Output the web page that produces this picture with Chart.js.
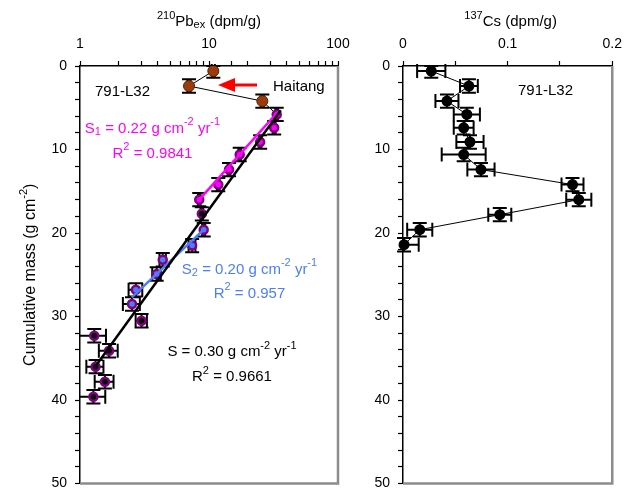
<!DOCTYPE html>
<html>
<head>
<meta charset="utf-8">
<script src="https://cdn.jsdelivr.net/npm/chart.js@4.4.0/dist/chart.umd.min.js"></script>
<style>
body { margin: 0; background: #fff; width: 630px; height: 488px; overflow: hidden; position: relative; }
#pbBox { position: absolute; left: 0; top: 0; width: 360px; height: 500px; }
#csBox { position: absolute; left: 360px; top: 0; width: 270px; height: 500px; }
</style>
</head>
<body>
<div id="pbBox"><canvas id="pbChart"></canvas></div>
<div id="csBox"><canvas id="csChart"></canvas></div>
<script>
// Haitang layer (top three samples)
var haitangMass = [0.6, 2.4, 4.2];
var haitangPb = [10.8, 7.0, 25.9];
var haitangPbErr = [0.3, 0.2, 0.7];

// 210Pb excess below the Haitang layer
var pbMass = [5.8, 7.4, 9.1, 10.6, 12.4, 14.2, 16.0, 17.7, 19.6, 21.5, 23.2, 24.9, 26.8, 28.5, 30.5, 32.3, 34.1, 36.0, 37.8, 39.6];
var pbExcess = [33.5, 32.0, 24.9, 17.3, 14.3, 11.8, 8.4, 8.8, 9.1, 7.4, 4.38, 3.93, 2.71, 2.53, 3.0, 1.29, 1.68, 1.32, 1.56, 1.27];
var pbExcessErr = [0.8, 0.8, 0.6, 0.4, 0.35, 0.3, 0.2, 0.2, 0.25, 0.45, 0.25, 0.3, 0.33, 0.38, 0.3, 0.3, 0.28, 0.2, 0.26, 0.3];
var pbSegment = ['S1','S1','S1','S1','S1','S1','S1','','S2','S2','S2','S2','S2','S2','','','','','',''];
var massErr = 0.8;

// regression lines (end points)
var fitAllMass = [5.3, 36.0];
var fitAllPb = [36.0, 1.31];
var fitS1Mass = [5.45, 16.0];
var fitS1Pb = [34.4, 8.4];
var fitS2Mass = [19.6, 27.7];
var fitS2Pb = [9.1, 2.52];

// 137Cs
var csMass = [0.6, 2.4, 4.2, 5.8, 7.4, 9.1, 10.6, 12.4, 14.2, 16.0, 17.8, 19.6, 21.4];
var cs137 = [0.027, 0.063, 0.042, 0.061, 0.058, 0.064, 0.058, 0.0745, 0.162, 0.168, 0.0925, 0.016, 0.001];
var cs137Err = [0.0135, 0.0085, 0.011, 0.0125, 0.0095, 0.013, 0.021, 0.013, 0.0105, 0.012, 0.011, 0.012, 0.014];

var pbTickLabels = [1, 10, 100];
var csTickLabels = [0, 0.1, 0.2];
var massTickLabels = [0, 10, 20, 30, 40, 50];

var FONT = '"Liberation Sans", Arial, sans-serif';
Chart.defaults.font.family = FONT;
Chart.defaults.color = '#000';

function pts(xs, ys) {
  return xs.map(function(v, i){ return {x: v, y: ys[i]}; });
}

function richText(ctx, parts, x, y, align, size, color) {
  var small = Math.round(size * 0.7);
  var widths = [], total = 0;
  parts.forEach(function(p){
    ctx.font = (p[1] ? small : size) + 'px ' + FONT;
    var w = ctx.measureText(p[0]).width;
    widths.push(w); total += w;
  });
  var cx = align == 'center' ? x - total / 2 : x;
  ctx.fillStyle = color;
  ctx.textAlign = 'left';
  ctx.textBaseline = 'alphabetic';
  parts.forEach(function(p, i){
    ctx.font = (p[1] ? small : size) + 'px ' + FONT;
    var dy = p[1] == 'sup' ? -size * 0.5 : (p[1] == 'sub' ? size * 0.15 : 0);
    ctx.fillText(p[0], cx, y + dy);
    cx += widths[i];
  });
}

var errorBars = {
  id: 'errorBars',
  beforeDatasetsDraw: function(chart) {
    var ctx = chart.ctx, xs = chart.scales.x, ys = chart.scales.y;
    var cap = 7;
    ctx.save();
    ctx.strokeStyle = '#000';
    ctx.lineWidth = 2;
    chart.data.datasets.forEach(function(ds){
      if (!ds.errX) return;
      ds.data.forEach(function(p, i){
        var px = xs.getPixelForValue(p.x), py = ys.getPixelForValue(p.y);
        var xa = xs.getPixelForValue(Math.max(p.x - ds.errX[i], xs.min));
        var xb = xs.getPixelForValue(p.x + ds.errX[i]);
        var ya = ys.getPixelForValue(Math.max(p.y - ds.errY, 0));
        var yb = ys.getPixelForValue(p.y + ds.errY);
        ctx.beginPath();
        ctx.moveTo(px, ya); ctx.lineTo(px, yb);
        ctx.moveTo(px - cap, ya); ctx.lineTo(px + cap, ya);
        ctx.moveTo(px - cap, yb); ctx.lineTo(px + cap, yb);
        ctx.moveTo(xa, py); ctx.lineTo(xb, py);
        if (p.x - ds.errX[i] > xs.min) { ctx.moveTo(xa, py - cap); ctx.lineTo(xa, py + cap); }
        ctx.moveTo(xb, py - cap); ctx.lineTo(xb, py + cap);
        ctx.stroke();
      });
    });
    ctx.restore();
  }
};

var frame = {
  id: 'frame',
  afterDraw: function(chart) {
    var ctx = chart.ctx, ca = chart.chartArea;
    ctx.save();
    ctx.strokeStyle = '#8c8c8c';
    ctx.lineWidth = 2.5;
    ctx.beginPath();
    ctx.moveTo(ca.right, ca.top);
    ctx.lineTo(ca.right, ca.bottom);
    ctx.lineTo(ca.left, ca.bottom);
    ctx.stroke();
    ctx.restore();
  }
};

function massAxis(width) {
  return {
    type: 'linear', reverse: true, min: 0, max: 50,
    afterFit: function(s){ s.width = width; },
    border: { color: '#000', width: 1.5 },
    grid: { drawOnChartArea: false, tickLength: 5, color: '#000', tickWidth: 1.2 },
    ticks: {
      stepSize: 2, padding: 8, font: { size: 14 }, autoSkip: false,
      callback: function(v){ return massTickLabels.indexOf(v) >= 0 ? String(v) : ''; }
    }
  };
}

var pbLabels = {
  id: 'pbLabels',
  afterDraw: function(chart) {
    var ctx = chart.ctx, ca = chart.chartArea;
    ctx.save();
    richText(ctx, [['210','sup'],['Pb',''],['ex','sub'],[' (dpm/g)','']], (ca.left + ca.right) / 2, 26, 'center', 15, '#000');
    ctx.translate(35, (ca.top + ca.bottom) / 2);
    ctx.rotate(-Math.PI / 2);
    richText(ctx, [['Cumulative mass (g cm',''],['-2','sup'],[')','']], 0, 0, 'center', 16, '#000');
    ctx.restore();

    ctx.save();
    richText(ctx, [['791-L32','']], ca.left + 15, ca.top + 30, 'left', 15, '#000');
    richText(ctx, [['Haitang','']], ca.left + 193, ca.top + 25, 'left', 15, '#000');
    // red arrow
    ctx.fillStyle = '#ff0000';
    ctx.strokeStyle = '#ff0000';
    ctx.lineWidth = 3;
    ctx.beginPath();
    ctx.moveTo(ca.left + 177, ca.top + 19);
    ctx.lineTo(ca.left + 152, ca.top + 19);
    ctx.stroke();
    ctx.beginPath();
    ctx.moveTo(ca.left + 138, ca.top + 19);
    ctx.lineTo(ca.left + 155, ca.top + 12);
    ctx.lineTo(ca.left + 155, ca.top + 26);
    ctx.closePath();
    ctx.fill();

    var c1 = ca.left + 72.5, c2 = ca.left + 169.5, c3 = ca.left + 152;
    richText(ctx, [['S',''],['1','sub'],[' = 0.22 g cm',''],['-2','sup'],[' yr',''],['-1','sup']], c1, ca.top + 66.5, 'center', 15, '#ff00ff');
    richText(ctx, [['R',''],['2','sup'],[' = 0.9841','']], c1, ca.top + 91.5, 'center', 15, '#ff00ff');
    richText(ctx, [['S',''],['2','sub'],[' = 0.20 g cm',''],['-2','sup'],[' yr',''],['-1','sup']], c2, ca.top + 207.5, 'center', 15, '#4a7dff');
    richText(ctx, [['R',''],['2','sup'],[' = 0.957','']], c2, ca.top + 231.5, 'center', 15, '#4a7dff');
    richText(ctx, [['S = 0.30 g cm',''],['-2','sup'],[' yr',''],['-1','sup']], c3, ca.top + 290, 'center', 15, '#000');
    richText(ctx, [['R',''],['2','sup'],[' = 0.9661','']], c3, ca.top + 315, 'center', 15, '#000');
    ctx.restore();
  }
};

var csLabels = {
  id: 'csLabels',
  afterDraw: function(chart) {
    var ctx = chart.ctx, ca = chart.chartArea;
    ctx.save();
    richText(ctx, [['137','sup'],['Cs (dpm/g)','']], (ca.left + ca.right) / 2 + 3, 26, 'center', 15, '#000');
    richText(ctx, [['791-L32','']], ca.left + 115, ca.top + 28.5, 'left', 15, '#000');
    ctx.restore();
  }
};

var pbColors = pbSegment.map(function(s){
  return s == 'S1' ? '#ff00ff' : (s == 'S2' ? '#4a7dff' : '#000000');
});

new Chart(document.getElementById('pbChart'), {
  type: 'scatter',
  data: {
    datasets: [
      { label: 'S', data: pts(fitAllPb, fitAllMass), showLine: true, borderColor: '#000', borderWidth: 2.5, pointRadius: 0, order: 0 },
      { label: 'S1', data: pts(fitS1Pb, fitS1Mass), showLine: true, borderColor: '#ff00ff', borderWidth: 2.5, pointRadius: 0, order: 0 },
      { label: 'S2', data: pts(fitS2Pb, fitS2Mass), showLine: true, borderColor: '#4a7dff', borderWidth: 2.5, pointRadius: 0, order: 0 },
      { label: 'Pbex', data: pts(pbExcess, pbMass), errX: pbExcessErr, errY: massErr,
        pointRadius: 4, pointBorderWidth: 2.5, pointBorderColor: '#800080', pointBackgroundColor: pbColors, order: 2 },
      { label: 'Haitang', data: pts(haitangPb, haitangMass), errX: haitangPbErr, errY: massErr, showLine: true,
        borderColor: '#000', borderWidth: 1, pointRadius: 5.5, pointBorderWidth: 1,
        pointBorderColor: '#5a2000', pointBackgroundColor: '#9c3c0c', order: 3 },
      { label: 'link', data: [{x: haitangPb[2], y: haitangMass[2]}, {x: pbExcess[0], y: pbMass[0]}], showLine: true,
        borderColor: '#000', borderWidth: 1, pointRadius: 0, order: 4 }
    ]
  },
  options: {
    responsive: true, maintainAspectRatio: false, animation: false,
    layout: { padding: { left: 0, right: 22, top: 0, bottom: 7 } },
    plugins: { legend: { display: false }, tooltip: { enabled: false } },
    scales: {
      x: {
        type: 'logarithmic', position: 'top', min: 1, max: 100,
        afterFit: function(s){ s.height = 66; },
        border: { color: '#000', width: 1.5 },
        grid: { drawOnChartArea: false, tickLength: 5, color: '#000', tickWidth: 1.2 },
        ticks: {
          padding: 8, font: { size: 14 }, autoSkip: false, maxRotation: 0,
          callback: function(v){ return pbTickLabels.indexOf(v) >= 0 ? String(v) : ''; }
        }
      },
      y: massAxis(80)
    }
  },
  plugins: [errorBars, frame, pbLabels]
});

new Chart(document.getElementById('csChart'), {
  type: 'scatter',
  data: {
    datasets: [
      { label: '137Cs', data: pts(cs137, csMass), errX: cs137Err, errY: massErr, showLine: true,
        borderColor: '#000', borderWidth: 1, pointRadius: 5.5, pointBorderWidth: 0,
        pointBackgroundColor: '#000', clip: false }
    ]
  },
  options: {
    responsive: true, maintainAspectRatio: false, animation: false,
    layout: { padding: { left: 0, right: 15, top: 0, bottom: 7 } },
    plugins: { legend: { display: false }, tooltip: { enabled: false } },
    scales: {
      x: {
        type: 'linear', position: 'top', min: 0, max: 0.2,
        afterFit: function(s){ s.height = 66; },
        border: { color: '#000', width: 1.5 },
        grid: { drawOnChartArea: false, tickLength: 5, color: '#000', tickWidth: 1.2 },
        ticks: {
          stepSize: 0.05, padding: 8, font: { size: 14 }, autoSkip: false, maxRotation: 0,
          callback: function(v){
            var r = Math.round(v * 100) / 100;
            return csTickLabels.indexOf(r) >= 0 ? String(r) : '';
          }
        }
      },
      y: massAxis(43)
    }
  },
  plugins: [errorBars, frame, csLabels]
});
</script>
</body>
</html>
